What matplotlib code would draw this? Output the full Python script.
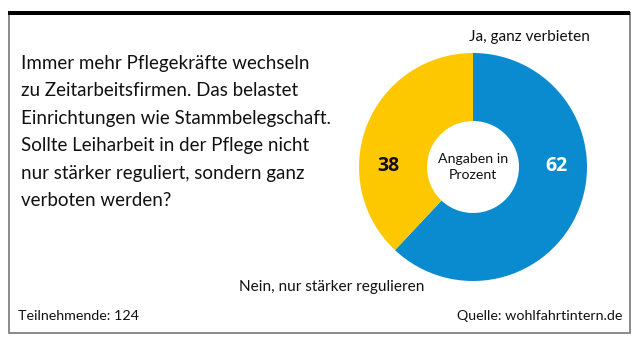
import matplotlib
matplotlib.use("Agg")
import matplotlib.pyplot as plt
from matplotlib.patches import Rectangle

labels = ["Ja, ganz verbieten", "Nein, nur stärker regulieren"]
values = [62, 38]
colors = ["#0a8bd0", "#fdc800"]
question = ("Immer mehr Pflegekräfte wechseln\n"
            "zu Zeitarbeitsfirmen. Das belastet\n"
            "Einrichtungen wie Stammbelegschaft.\n"
            "Sollte Leiharbeit in der Pflege nicht\n"
            "nur stärker reguliert, sondern ganz\n"
            "verboten werden?")
participants = "Teilnehmende: 124"
source = "Quelle: wohlfahrtintern.de"

W, H = 637, 344
FONT = ["Lato", "DejaVu Sans"]

fig = plt.figure(figsize=(W / 100, H / 100), dpi=100)
ax = fig.add_axes([0, 0, 1, 1])


def y(py):
    # image pixel row -> data y
    return H - py


cx, cy, R = 473, y(167), 114
ax.pie(values, colors=colors, startangle=90, counterclock=False,
       center=(cx, cy), radius=R, frame=True,
       wedgeprops=dict(width=R - 46, linewidth=0))
ax.set_xlim(0, W)
ax.set_ylim(0, H)
ax.axis("off")

# frame + thick top bar
ax.add_patch(Rectangle((8.5, y(333)), 621, 333 - 13, fill=False, edgecolor="#777777", lw=1.2))
ax.add_patch(Rectangle((8, y(15)), 622, 4, color="black", lw=0))

ax.text(cx, y(167), "Angaben in\nProzent", ha="center", va="center", fontsize=10.2,
        family=FONT, linespacing=1.45, color="#111111")
ax.text(556, y(166), str(values[0]), ha="center", va="center", fontsize=14,
        fontweight="bold", family=["Open Sans"], color="white")
ax.text(388, y(166), str(values[1]), ha="center", va="center", fontsize=14,
        fontweight="bold", family=["Open Sans"], color="#111111")
ax.text(529, y(37), labels[0], ha="center", va="center", fontsize=11.1,
        family=FONT, color="#111111")
ax.text(332, y(287), labels[1], ha="center", va="center", fontsize=11.1,
        family=FONT, color="#111111")

ax.text(21, y(55), question, ha="left", va="top", fontsize=13.5, family=FONT,
        linespacing=1.75, color="#111111")
ax.text(18, y(316), participants, ha="left", va="center", fontsize=10.3,
        family=FONT, color="#111111")
ax.text(622, y(316), source, ha="right", va="center", fontsize=10.3,
        family=FONT, color="#111111")

fig.savefig("out.png", dpi=100)
